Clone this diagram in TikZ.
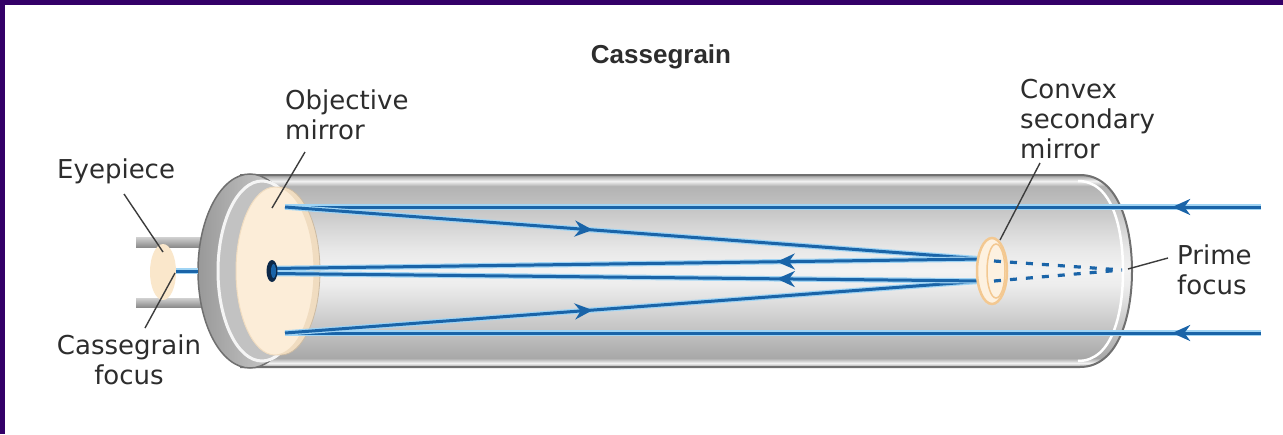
\documentclass[tikz,border=0pt]{standalone}
\usepackage{fontspec}
\setmainfont{DejaVu Sans}
\newfontfamily\titlefont{Liberation Sans}
\usetikzlibrary{arrows.meta,decorations.markings}

\definecolor{framec}{RGB}{52,0,104}
\definecolor{raycol}{RGB}{26,100,168}
\definecolor{rayglow}{RGB}{160,212,244}
\definecolor{leadc}{RGB}{60,60,60}
\definecolor{textc}{RGB}{45,45,45}
\definecolor{cream}{RGB}{252,237,216}
\definecolor{creamrim}{RGB}{240,220,192}
\definecolor{lenscol}{RGB}{250,231,203}
\definecolor{secring}{RGB}{243,200,145}
\definecolor{secfill}{RGB}{253,241,224}
\definecolor{holecol}{RGB}{12,40,72}
\definecolor{tubeline}{RGB}{112,112,112}

% grey cylinder body: dark edges, thin highlights, bright centre
\pgfdeclareverticalshading{tubeshade}{100bp}{%
  color(0bp)=(black!40); color(25bp)=(black!40); color(26bp)=(black!4);
  color(27.3bp)=(black!34); color(30.7bp)=(black!29); color(37.2bp)=(black!20);
  color(46.4bp)=(black!7); color(50.3bp)=(black!5); color(55.5bp)=(black!9);
  color(62bp)=(black!17); color(68.5bp)=(black!26); color(72.1bp)=(black!30);
  color(73.4bp)=(black!5); color(75bp)=(black!40); color(100bp)=(black!40)}

\tikzset{
  beam/.style={draw=raycol, line width=3, preaction={draw=rayglow, line width=5.4}},
  midarrow/.style={postaction={decorate, decoration={markings,
      mark=at position #1 with {\arrow{Stealth[length=18pt,width=16pt]}}}}},
  dashbeam/.style={draw=raycol, line width=3.2, dash pattern=on 7pt off 9pt},
  leader/.style={draw=leadc, line width=1.4},
  lbl/.style={font=\fontsize{26}{30}\selectfont, text=textc, inner sep=0pt},
  ttl/.style={font=\titlefont\bfseries\fontsize{26}{30}\selectfont, text=textc, inner sep=0pt},
  rod/.style={top color=black!18, bottom color=black!45}
}

\begin{document}
\begin{tikzpicture}[x=1pt,y=-1pt]
\useasboundingbox (0,0) rectangle (1283,434);
\fill[white] (0,0) rectangle (1283,434);
\fill[framec] (0,0) rectangle (1283,5);
\fill[framec] (0,0) rectangle (5,434);

% eyepiece rods
\fill[rod] (136,237) rectangle (204,247);
\fill[rod] (136,298) rectangle (204,307);

% tube body with rounded front end
\path[shading=tubeshade, draw=tubeline, line width=2]
  (240,175) -- (1080,175) .. controls (1120,175) and (1132,230) .. (1132,271)
  .. controls (1132,312) and (1120,367) .. (1080,367) -- (240,367);
\draw[white, line width=2.5] (1078,181) .. controls (1113,181) and (1123,230) .. (1123,271)
  .. controls (1123,312) and (1113,361) .. (1078,361);

% rear collar and inner face
\draw[tubeline, line width=1.5, left color=black!40, right color=black!15]
  (250,271) ellipse [x radius=52, y radius=97];
\draw[line width=3, draw=black!4, fill=black!24] (262,271) ellipse [x radius=44, y radius=90];

% objective mirror
\filldraw[fill=creamrim, draw=creamrim!85!black, line width=0.8]
  (281,271) ellipse [x radius=39, y radius=84];
\filldraw[fill=cream, draw=creamrim, line width=1] (275,271) ellipse [x radius=39, y radius=84];

% eyepiece lens
\fill[lenscol] (163,272) ellipse [x radius=13, y radius=28];

% ray coordinates
\coordinate (inT) at (1261,207);
\coordinate (inB) at (1261,333);
\coordinate (objT) at (285,207);
\coordinate (objB) at (285,333);
\coordinate (secT) at (983,259);
\coordinate (secB) at (983,281);
\coordinate (holeT) at (272,268.5);
\coordinate (holeB) at (272,273.5);
\coordinate (dashT) at (994,261);
\coordinate (dashB) at (994,281);
\coordinate (pf) at (1122,270);
\coordinate (eyeIn) at (176,271);
\coordinate (eyeOut) at (198,271);

% light path
\draw[beam, midarrow=0.091] (inT) -- (objT);
\draw[beam, midarrow=0.091] (inB) -- (objB);
\draw[beam, midarrow=0.441] (objT) -- (secT);
\draw[beam, midarrow=0.441] (objB) -- (secB);
\draw[beam, midarrow=0.29] (secT) -- (holeT);
\draw[beam, midarrow=0.29] (secB) -- (holeB);
\draw[beam] (eyeIn) -- (eyeOut);

% hole in the objective mirror
\fill[holecol] (272,271) ellipse [x radius=5.5, y radius=11];
\fill[raycol] (273.5,271) ellipse [x radius=2.5, y radius=7];

% convex secondary mirror
\filldraw[fill=secfill, draw=secring, line width=2.5] (992,271) ellipse [x radius=15, y radius=33];
\draw[secring, line width=1.5] (996,271) ellipse [x radius=9, y radius=27];

% extension to the prime focus
\draw[dashbeam] (dashT) -- (pf);
\draw[dashbeam] (dashB) -- (pf);

% labels
\node[ttl, anchor=base] (title) at (661,63) {Cassegrain};
\node[lbl, anchor=base west] (eyeLbl) at (57,178) {Eyepiece};
\node[lbl, anchor=north west, align=left] (objLbl) at (285,90) {Objective\\mirror};
\node[lbl, anchor=north, align=center] (cfLbl) at (129,335) {Cassegrain\\focus};
\node[lbl, anchor=north west, align=left] (secLbl) at (1020,79) {Convex\\secondary\\mirror};
\node[lbl, anchor=north west, align=left] (pfLbl) at (1177,245) {Prime\\focus};

% leader lines
\coordinate (eyeA) at (124,194);   \coordinate (eyeB) at (163,252);
\coordinate (cfA) at (145,328);    \coordinate (cfB) at (175,273);
\coordinate (objA) at (305,152);   \coordinate (objC) at (272,208);
\coordinate (secA) at (1040,163);  \coordinate (secC) at (1000,240);
\coordinate (pfA) at (1168,258);   \coordinate (pfB) at (1128,269);
\draw[leader] (eyeA) -- (eyeB);
\draw[leader] (cfA) -- (cfB);
\draw[leader] (objA) -- (objC);
\draw[leader] (secA) -- (secC);
\draw[leader] (pfA) -- (pfB);
\end{tikzpicture}
\end{document}
